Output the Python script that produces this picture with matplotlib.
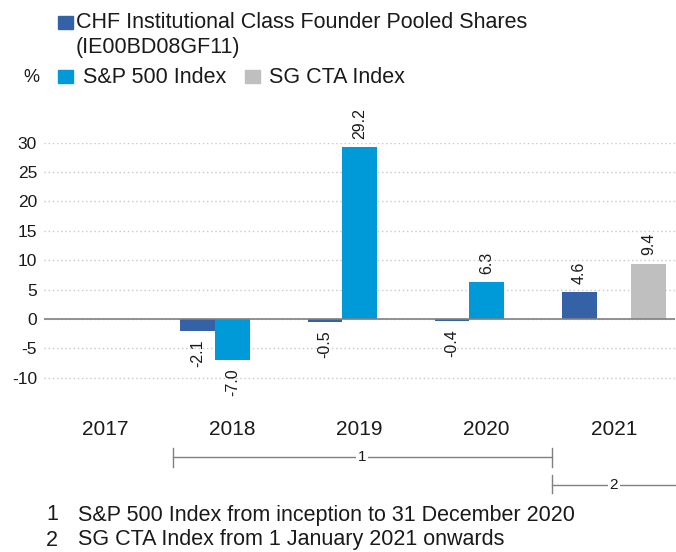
import numpy as np
import matplotlib
matplotlib.use('Agg')
import matplotlib.pyplot as plt
import matplotlib.transforms as mtransforms
from matplotlib.patches import Rectangle

plt.rcParams['font.family'] = ['Liberation Sans', 'DejaVu Sans']
plt.rcParams['axes.unicode_minus'] = False

# data
years = ['2017', '2018', '2019', '2020', '2021']
fund = [np.nan, -2.1, -0.5, -0.4, 4.6]
sp500 = [np.nan, -7.0, 29.2, 6.3, np.nan]
sgcta = [np.nan, np.nan, np.nan, np.nan, 9.4]

series_names = ['CHF Institutional Class Founder Pooled Shares\n(IE00BD08GF11)',
                'S&P 500 Index', 'SG CTA Index']
colors = ['#3562a6', '#009ad8', '#bfbfbf']
footnotes = ['S&P 500 Index from inception to 31 December 2020',
             'SG CTA Index from 1 January 2021 onwards']

W, H = 676, 552
fig = plt.figure(figsize=(W / 100, H / 100), dpi=100)

def fx(px):
    return px / W

def fy(py):
    return 1 - py / H

ax = fig.add_axes([fx(44), fy(407.2), fx(675 - 44), (407.2 - 142.7) / H])

x = np.arange(len(years))
w = 0.272
for i, (vals, col) in enumerate(zip([fund, sp500, sgcta], colors)):
    pos = x + (i - 1) * w
    ax.bar(pos, vals, width=w, color=col, zorder=3)
    for xp, v in zip(pos, vals):
        if np.isnan(v):
            continue
        ax.annotate(f'{v:.1f}', (xp, v), xytext=(0, 6 if v >= 0 else -6),
                    textcoords='offset points', rotation=90, ha='center',
                    va='bottom' if v >= 0 else 'top', fontsize=11.5,
                    color='#1a1a1a')

ax.set_xlim(-0.48, 4.48)
ax.set_ylim(-15, 30)
ax.set_yticks(np.arange(-10, 31, 5))
ax.set_xticks(x)
ax.set_xticklabels(years, fontsize=15)
ax.tick_params(axis='y', length=0, pad=5, labelsize=12.5, colors='#1a1a1a')
ax.tick_params(axis='x', length=0, pad=9, colors='#1a1a1a')
for s in ax.spines.values():
    s.set_visible(False)
ax.grid(axis='y', linestyle=(0, (1, 2)), color='#c8c8c8', linewidth=1, zorder=0)
ax.axhline(0, color='#808080', linewidth=1.2, zorder=4)

# period brackets under the x axis
tr = mtransforms.blended_transform_factory(ax.transData, fig.transFigure)
brackets = [(0.535, 3.51, 457, 448, 467, '1', 2.02),
            (3.51, 4.52, 485, 475, 493, '2', 4.0)]
for x0, x1, yl, yt0, yt1, lab, xm in brackets:
    ax.plot([x0, x1], [fy(yl), fy(yl)], color='#808080', lw=1, transform=tr, clip_on=False)
    ax.plot([x0, x0], [fy(yt0), fy(yt1)], color='#808080', lw=1, transform=tr, clip_on=False)
    if x1 < 4.5:
        ax.plot([x1, x1], [fy(yt0), fy(yt1)], color='#808080', lw=1, transform=tr, clip_on=False)
    ax.text(xm, fy(yl), lab, transform=tr, ha='center', va='center', fontsize=11,
            color='#1a1a1a', bbox=dict(facecolor='white', edgecolor='none', pad=1.5))

# legend drawn by hand
fig.add_artist(Rectangle((fx(58), fy(29)), fx(15), 13 / H, color=colors[0], transform=fig.transFigure))
fig.text(fx(76), fy(23), series_names[0].split('\n')[0], fontsize=15.5, va='center', color='#1a1a1a')
fig.text(fx(76), fy(48), series_names[0].split('\n')[1], fontsize=15.5, va='center', color='#1a1a1a')
fig.text(fx(23), fy(78), '%', fontsize=13, va='center', color='#1a1a1a')
fig.add_artist(Rectangle((fx(58), fy(83)), fx(15), 13 / H, color=colors[1], transform=fig.transFigure))
fig.text(fx(83), fy(77), series_names[1], fontsize=15.5, va='center', color='#1a1a1a')
fig.add_artist(Rectangle((fx(245), fy(83)), fx(15), 13 / H, color=colors[2], transform=fig.transFigure))
fig.text(fx(269), fy(77), series_names[2], fontsize=15.5, va='center', color='#1a1a1a')

# footnotes
for k, (note, yy) in enumerate(zip(footnotes, [515, 540])):
    fig.text(fx(46), fy(yy), str(k + 1), fontsize=15.5, va='center', color='#1a1a1a')
    fig.text(fx(78), fy(yy), note, fontsize=15.5, va='center', color='#1a1a1a')

fig.savefig('out.png', dpi=100)
